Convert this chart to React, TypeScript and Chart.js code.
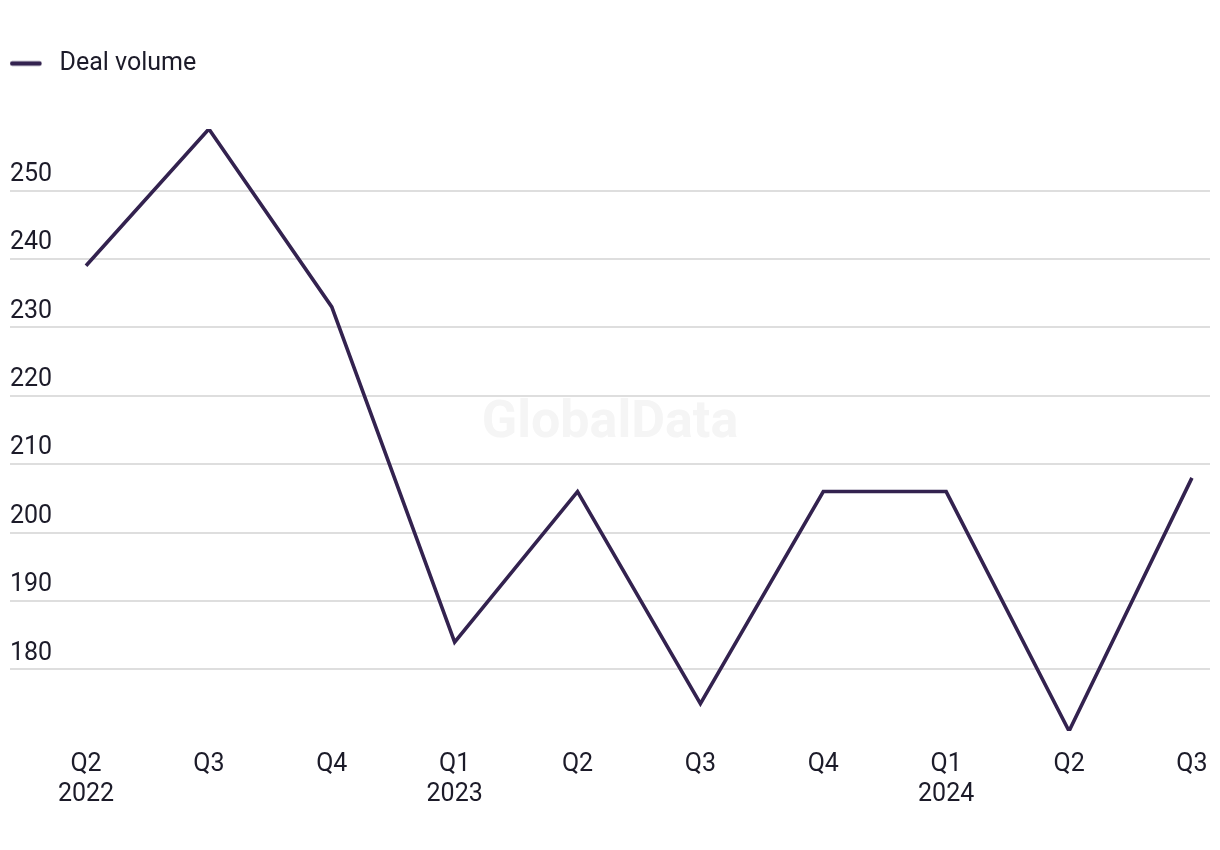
import React, { useEffect, useRef } from 'react';
import { Chart, registerables } from 'chart.js';

Chart.register(...registerables);

const quarters = ['Q2', 'Q3', 'Q4', 'Q1', 'Q2', 'Q3', 'Q4', 'Q1', 'Q2', 'Q3'];
const years = ['2022', '', '', '2023', '', '', '', '2024', '', ''];
const dealVolume = [239, 259, 233, 184, 206, 175, 206, 206, 171, 208];
const yTickValues = [180, 190, 200, 210, 220, 230, 240, 250];
const seriesLabel = 'Deal volume';
const watermarkText = 'GlobalData';

const LINE_COLOR = '#33224f';
const TEXT_COLOR = '#1c1b29';
const GRID_COLOR = '#dedede';
const FONT = 'Roboto, "Noto Sans", sans-serif';
const WIDTH = 1220;
const HEIGHT = 850;

export default function App() {
  const canvasRef = useRef<HTMLCanvasElement | null>(null);

  useEffect(() => {
    document.body.style.margin = '0';
    document.documentElement.style.overflow = 'hidden';
    document.body.style.overflow = 'hidden';

    const canvas = canvasRef.current;
    if (!canvas) return;

    // legend marker: short rounded line inside a wider box (gap before text)
    const marker = document.createElement('canvas');
    marker.width = 37;
    marker.height = 8;
    const mctx = marker.getContext('2d');
    if (mctx) {
      mctx.strokeStyle = LINE_COLOR;
      mctx.lineWidth = 4.5;
      mctx.lineCap = 'round';
      mctx.beginPath();
      mctx.moveTo(2.25, 4);
      mctx.lineTo(29.5, 4);
      mctx.stroke();
    }

    const legendSpacer = {
      id: 'legendSpacer',
      beforeInit(chart: any) {
        const legend = chart.legend;
        if (!legend) return;
        const origFit = legend.fit;
        legend.fit = function () {
          origFit.call(this);
          this.height += 43;
        };
      },
    };

    const watermark = {
      id: 'watermark',
      beforeDatasetsDraw(chart: any) {
        const { ctx, chartArea } = chart;
        ctx.save();
        ctx.font = `bold 52px ${FONT}`;
        ctx.fillStyle = '#f5f5f5';
        ctx.textAlign = 'center';
        ctx.textBaseline = 'middle';
        ctx.fillText(watermarkText, (chartArea.left + chartArea.right) / 2, 424);
        ctx.restore();
      },
    };

    const chart = new Chart(canvas, {
      type: 'line',
      data: {
        datasets: [
          {
            label: seriesLabel,
            data: dealVolume.map((v, i) => ({ x: i, y: v })),
            borderColor: LINE_COLOR,
            backgroundColor: LINE_COLOR,
            borderWidth: 3.6,
            pointRadius: 0,
            pointHoverRadius: 0,
            tension: 0,
            fill: false,
            pointStyle: marker as any,
          },
        ],
      },
      options: {
        animation: false,
        responsive: false,
        maintainAspectRatio: false,
        devicePixelRatio: 1,
        layout: { padding: { top: 51, left: 10, right: 10, bottom: 21 } },
        plugins: {
          legend: {
            display: true,
            position: 'top',
            align: 'start',
            labels: {
              usePointStyle: true,
              pointStyleWidth: 37,
              padding: 0,
              color: TEXT_COLOR,
              font: { family: FONT, size: 25 },
            },
          },
          tooltip: { enabled: false },
        },
        scales: {
          x: {
            type: 'linear',
            min: -0.6185,
            max: 9.147,
            afterBuildTicks: (axis: any) => {
              axis.ticks = quarters.map((_, i) => ({ value: i }));
            },
            afterFit: (axis: any) => {
              axis.paddingLeft = 0;
              axis.paddingRight = 0;
            },
            grid: { display: false, drawTicks: false },
            border: { display: false },
            ticks: {
              autoSkip: false,
              maxRotation: 0,
              minRotation: 0,
              padding: 19,
              color: TEXT_COLOR,
              font: { family: FONT, size: 25 },
              callback: (value: any) => {
                const i = Math.round(Number(value));
                return years[i] ? [quarters[i], years[i]] : quarters[i];
              },
            },
          },
          y: {
            type: 'linear',
            min: 171,
            max: 259,
            afterBuildTicks: (axis: any) => {
              axis.ticks = yTickValues.map((v) => ({ value: v }));
            },
            grid: { color: GRID_COLOR, lineWidth: 2, drawTicks: false },
            border: { display: false },
            ticks: {
              mirror: true,
              padding: 0,
              labelOffset: -16,
              color: TEXT_COLOR,
              font: { family: FONT, size: 25 },
            },
          },
        },
      },
      plugins: [legendSpacer, watermark],
    });

    return () => chart.destroy();
  }, []);

  return (
    <div style={{ position: 'fixed', left: 0, top: 0, width: WIDTH, height: HEIGHT, overflow: 'hidden', background: '#ffffff' }}>
      <canvas ref={canvasRef} width={WIDTH} height={HEIGHT} style={{ display: 'block', width: WIDTH, height: HEIGHT }} />
    </div>
  );
}
